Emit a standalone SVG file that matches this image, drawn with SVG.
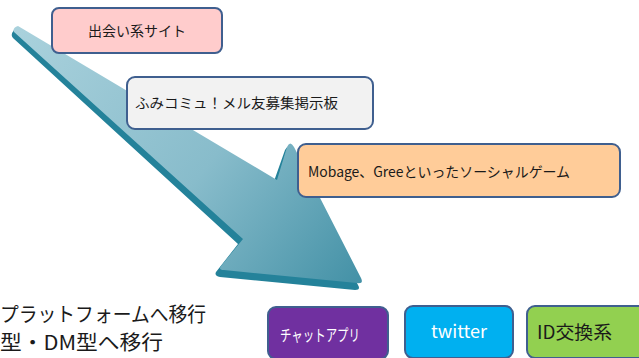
<svg xmlns="http://www.w3.org/2000/svg" width="639" height="358" viewBox="0 0 639 358">
<defs>
<linearGradient id="arrowGrad" gradientUnits="userSpaceOnUse" x1="20" y1="30" x2="350" y2="290">
<stop offset="0" stop-color="#a9d1dc"/>
<stop offset="0.55" stop-color="#88bccb"/>
<stop offset="1" stop-color="#4592a7"/>
</linearGradient>
<style>
.box{stroke:#3f5f8f;stroke-width:2}
.t{font-family:"Noto Sans CJK JP","Noto Sans",sans-serif;fill:#1a1a1a}
.w{fill:#ffffff}
</style>
</defs>
<g id="arrow">
<path d="M16,30 Q12,35 15,38 L240,244 L218,272 Q216,276 222,277 L357,290 Q363,290 360,285 L294,150 Q290,144 287,150 L275,184 Z" fill="#24829a" transform="translate(-2,0)"/>
<path d="M18,26 Q12,28 14,32 L243,239 L221,266 Q218,270 224,270 L357,283 Q364,284 361,278 L294,147 Q290,140 287,147 L277,180 Z" fill="url(#arrowGrad)"/>
</g>
<g id="node1">
<rect class="box" x="52" y="8" width="170" height="45" rx="7" fill="#ffcccc"/>
<text class="t" x="137" y="36" font-size="14" text-anchor="middle">出会い系サイト</text>
</g>
<g id="node2">
<rect class="box" x="127" y="77" width="246" height="52" rx="8" fill="#f2f2f2"/>
<text class="t" x="135" y="108" font-size="14" textLength="203" lengthAdjust="spacingAndGlyphs">ふみコミュ！メル友募集掲示板</text>
</g>
<g id="node3">
<rect class="box" x="298" y="144" width="322" height="53" rx="8" fill="#ffcc99"/>
<text class="t" x="308" y="177" font-size="14" textLength="262" lengthAdjust="spacingAndGlyphs">Mobage、Greeといったソーシャルゲーム</text>
</g>
<g id="node4">
<rect class="box" x="268" y="307" width="120" height="52" rx="8" fill="#7030a0"/>
<text class="t w" x="280" y="341" font-size="16" textLength="80" lengthAdjust="spacingAndGlyphs">チャットアプリ</text>
</g>
<g id="node5">
<rect class="box" x="405" y="306" width="108" height="52" rx="8" fill="#00b0f0"/>
<text class="t w" x="459" y="338" font-size="18" text-anchor="middle">twitter</text>
</g>
<g id="node6">
<rect class="box" x="527" y="306" width="125" height="52" rx="8" fill="#92d050"/>
<text class="t" x="537" y="339" font-size="18" textLength="75" lengthAdjust="spacingAndGlyphs">ID交換系</text>
</g>
<g id="labels">
<text class="t" x="0" y="322" font-size="20" textLength="206" lengthAdjust="spacingAndGlyphs">プラットフォームへ移行</text>
<text class="t" x="0" y="350" font-size="20" textLength="163" lengthAdjust="spacingAndGlyphs">型・DM型へ移行</text>
</g>
<g id="connectors"></g>
</svg>
